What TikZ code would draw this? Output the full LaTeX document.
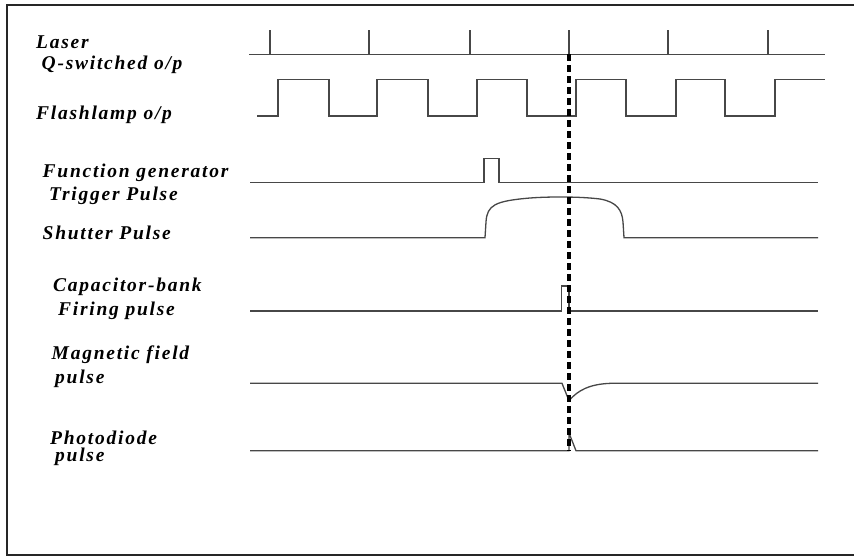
\documentclass[tikz,border=0pt]{standalone}
\usepackage{fontspec}
\setmainfont{Liberation Serif}
\begin{document}
\begin{tikzpicture}[x=1pt,y=-1pt,
  lbl/.style={anchor=base west,inner sep=0pt,font=\fontsize{19.5}{22}\selectfont\bfseries\itshape\addfontfeature{LetterSpace=9}},
  wave/.style={draw=black!72,line width=1.3pt,line join=miter},
  marker/.style={draw=black,line width=3.4pt,dash pattern=on 7pt off 4pt}]
\useasboundingbox (0,0) rectangle (854,557);
\draw[line width=1.8pt,black!85] (860,5) -- (7,5) -- (7,555) -- (860,555);
% labels
\node[lbl] (l1) at (36,48) {Laser};
\node[lbl] (l2) at (41.5,69.5) {Q-switched o/p};
\node[lbl] (l3) at (36,119) {Flashlamp o/p};
\node[lbl] (l4) at (42.5,177) {Function generator};
\node[lbl] (l5) at (49,200.5) {Trigger Pulse};
\node[lbl] (l6) at (42.5,239.5) {Shutter Pulse};
\node[lbl] (l7) at (53,291.5) {Capacitor-bank};
\node[lbl] (l8) at (58,315.5) {Firing pulse};
\node[lbl] (l9) at (51.5,359.5) {Magnetic field};
\node[lbl] (l10) at (55,383) {pulse};
\node[lbl] (l11) at (50,444) {Photodiode};
\node[lbl] (l12) at (55,461.5) {pulse};
% laser Q-switched
\draw[wave] (249,54.3) -- (825,54.3);
\foreach \x in {270,369,470,569,668,768} \draw[wave] (\x,54.3) -- (\x,30);
% flashlamp
\draw[wave] (257,116) -- (278,116) -- (278,79.3) -- (329,79.3) -- (329,116)
  -- (377,116) -- (377,79.3) -- (428,79.3) -- (428,116)
  -- (477,116) -- (477,79.3) -- (527,79.3) -- (527,116)
  -- (576,116) -- (576,79.3) -- (626,79.3) -- (626,116)
  -- (676,116) -- (676,79.3) -- (725,79.3) -- (725,116)
  -- (775,116) -- (775,79.3) -- (825,79.3);
% function generator trigger
\draw[wave] (250,182.7) -- (484,182.7) -- (484,158.7) -- (499,158.7) -- (499,182.7) -- (818,182.7);
% shutter
\draw[wave] (250,237.7) -- (485,237.7) -- (486,222) .. controls (487,205) and (495,201) .. (530,198)
  .. controls (550,196.5) and (580,196.5) .. (600,199)
  .. controls (617,202) and (622,210) .. (623,222) -- (624,237.7) -- (818,237.7);
% capacitor bank
\draw[wave] (250,311) -- (561.7,311) -- (561.7,286) -- (569,286) -- (569,311) -- (818,311);
% magnetic field
\draw[wave] (250,383.3) -- (562,383.3) -- (569,400.7) .. controls (578,390) and (590,384) .. (611,383.3) -- (818,383.3);
% photodiode
\draw[wave] (250,450.7) -- (569,450.7) -- (569,433) -- (576,450.7) -- (818,450.7);
% marker
\coordinate (mtop) at (569,54);
\coordinate (mbot) at (569,451);
\draw[marker] (mtop) -- (mbot);
\end{tikzpicture}
\end{document}
